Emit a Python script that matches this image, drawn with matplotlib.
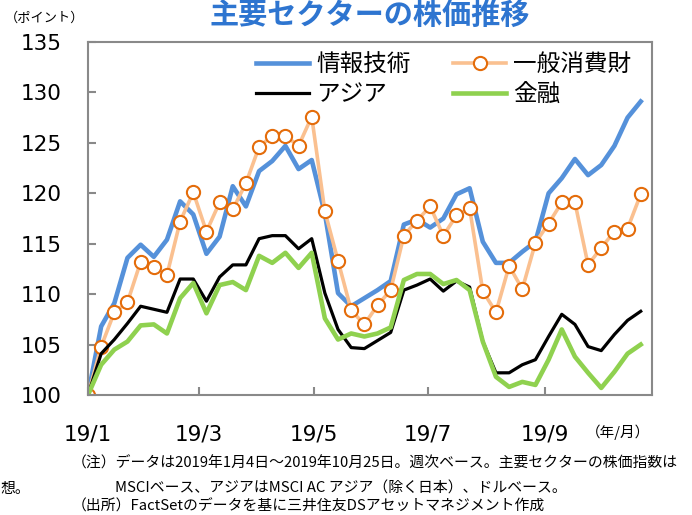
import numpy as np
import matplotlib
matplotlib.use('Agg')
import matplotlib.pyplot as plt

plt.rcParams['font.family'] = ['Noto Sans CJK JP', 'DejaVu Sans']

### data (weekly, 2019/1/4 - 2019/10/25, start = 100)
dates = np.arange(np.datetime64('2019-01-04'), np.datetime64('2019-10-26'), np.timedelta64(7, 'D'))

info_tech = [100.0, 106.8, 109.1, 113.6, 114.9, 113.7, 115.4, 119.2, 117.9, 114.0,
             115.7, 120.7, 118.7, 122.2, 123.2, 124.7, 122.4, 123.3, 118.0, 110.1,
             108.8, 109.6, 110.4, 111.3, 116.9, 117.4, 116.6, 117.5, 119.9, 120.5,
             115.2, 113.1, 113.1, 114.2, 115.2, 120.0, 121.5, 123.4, 121.8, 122.8,
             124.7, 127.5, 129.1]
cons_disc = [100.0, 104.8, 108.2, 109.2, 113.2, 112.7, 111.9, 117.2, 120.1, 116.2,
             119.1, 118.4, 121.0, 124.6, 125.7, 125.7, 124.7, 127.6, 118.2, 113.3,
             108.4, 107.0, 108.9, 110.4, 115.8, 117.3, 118.7, 115.8, 117.8, 118.5,
             110.3, 108.2, 112.8, 110.5, 115.1, 117.0, 119.1, 119.1, 112.9, 114.6,
             116.2, 116.5, 119.9]
asia = [100.0, 104.1, 105.5, 107.1, 108.8, 108.5, 108.2, 111.5, 111.5, 109.3,
        111.7, 112.9, 112.9, 115.5, 115.8, 115.8, 114.5, 115.5, 110.1, 106.5,
        104.7, 104.6, 105.4, 106.2, 110.4, 110.9, 111.5, 110.3, 111.3, 110.7,
        105.3, 102.2, 102.2, 103.0, 103.5, 105.8, 108.0, 107.0, 104.8, 104.4,
        106.0, 107.4, 108.3]
finance = [100.0, 103.0, 104.5, 105.3, 106.9, 107.0, 106.1, 109.6, 111.1, 108.1,
           110.9, 111.2, 110.4, 113.8, 113.1, 114.1, 112.6, 114.1, 107.6, 105.5,
           106.1, 105.8, 106.1, 106.7, 111.4, 112.0, 112.0, 111.0, 111.4, 110.4,
           105.3, 101.8, 100.8, 101.3, 101.0, 103.5, 106.5, 103.8, 102.2, 100.7,
           102.3, 104.1, 105.0]

names = ['情報技術', '一般消費財', 'アジア', '金融']
tick_dates = np.array(['2019-01-04', '2019-03-04', '2019-05-04', '2019-07-04', '2019-09-04'],
                      dtype='datetime64[D]')
tick_labels = ['19/1', '19/3', '19/5', '19/7', '19/9']
y_ticks = [100, 105, 110, 115, 120, 125, 130, 135]

fig = plt.figure(figsize=(6.92, 5.15), dpi=100)
ax = fig.add_axes([88/692, 1-395/515, (652-88)/692, (395-42)/515])

l1, = ax.plot(dates, info_tech, color='#5591DA', lw=3.3, label=names[0])
l2, = ax.plot(dates, cons_disc, color='#FAC090', lw=2.6, marker='o', ms=9.5,
              mfc='white', mec='#E46C0A', mew=1.5, label=names[1])
l3, = ax.plot(dates, asia, color='black', lw=2.3, label=names[2])
l4, = ax.plot(dates, finance, color='#8FD14F', lw=3.3, label=names[3])

ax.set_xlim(np.datetime64('2019-01-04'), np.datetime64('2019-10-31'))
ax.set_ylim(100, 135)
ax.set_yticks(y_ticks)
ax.set_xticks(tick_dates)
ax.set_xticklabels(tick_labels)

for s in ax.spines.values():
    s.set_color('#898989')
    s.set_linewidth(1.5)
ax.tick_params(axis='both', direction='in', length=6, width=1.5, color='#898989',
               labelsize=15.5)
ax.tick_params(axis='y', pad=19)
ax.tick_params(axis='x', pad=21)
for lab in ax.get_xticklabels() + ax.get_yticklabels():
    lab.set_family('DejaVu Sans')

# legend: column 1 = 情報技術, アジア / column 2 = 一般消費財, 金融
ax.legend([l1, l3, l2, l4], [names[0], names[2], names[1], names[3]],
          ncol=2, frameon=False, fontsize=17, loc='upper left',
          bbox_to_anchor=(244/692, 1-41/515), bbox_transform=fig.transFigure,
          borderpad=0, handlelength=2.25, columnspacing=1.8,
          labelspacing=0.32, handletextpad=0.3)

fig.text(370/692, 1-15/515, '主要セクターの株価推移', ha='center', va='center',
         fontsize=21, fontweight='bold', color='#2E75D0')
fig.text(5/692, 1-18/515, '（ポイント）', ha='left', va='center', fontsize=9.5)
fig.text(618/692, 1-432/515, '（年/月）', ha='center', va='center', fontsize=10.5)

fig.text(72/692, 1-463/515, '（注）データは2019年1月4日～2019年10月25日。週次ベース。主要セクターの株価指数は',
         ha='left', va='center', fontsize=10.7)
fig.text(115/692, 1-489/515, 'MSCIベース、アジアはMSCI AC アジア（除く日本）、ドルベース。',
         ha='left', va='center', fontsize=10.7)
fig.text(72/692, 1-506/515, '（出所）FactSetのデータを基に三井住友DSアセットマネジメント作成',
         ha='left', va='center', fontsize=10.7)
fig.text(0, 1-489/515, '想。', ha='left', va='center', fontsize=10.7)

fig.savefig('out.png', dpi=100)
